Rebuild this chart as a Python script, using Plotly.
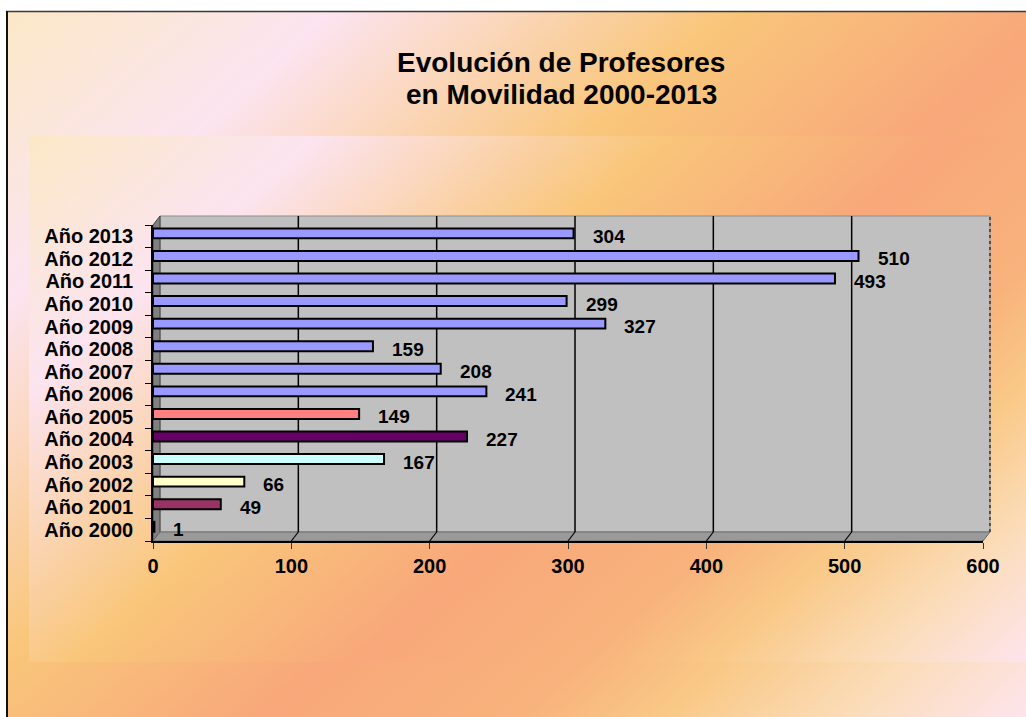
import base64

import plotly.graph_objects as go

years = ["Año 2000", "Año 2001", "Año 2002", "Año 2003", "Año 2004", "Año 2005", "Año 2006",
         "Año 2007", "Año 2008", "Año 2009", "Año 2010", "Año 2011", "Año 2012", "Año 2013"]
profesores = [1, 49, 66, 167, 227, 149, 241, 208, 159, 327, 299, 493, 510, 304]
bar_colors = ["#9999ff", "#993366", "#ffffcc", "#ccffff", "#660066", "#ff8080", "#9999ff",
              "#9999ff", "#9999ff", "#9999ff", "#9999ff", "#9999ff", "#9999ff", "#9999ff"]
x_ticks = [0, 100, 200, 300, 400, 500, 600]
title_lines = ["Evolución de Profesores", "en Movilidad 2000-2013"]

FONT = "Liberation Sans, Arial, sans-serif"
WIDTH, HEIGHT = 1026, 717
# plot area in pixels, and the depth of the fake 3D wall
L, R, T, B = 153, 983, 225, 541
DX, DY = 7, 9
W, H = R - L, B - T


def fx(px: float) -> float:
    return (px - L) / W


def fy(py: float) -> float:
    return (B - py) / H


def gradient_background() -> str:
    stops = [(0.00, "#fbe8c6"), (0.18, "#fce4f0"), (0.40, "#f9c67a"), (0.58, "#f8a87a"),
             (0.72, "#f8b27c"), (0.80, "#f9c886"), (0.90, "#fbdcb8"), (1.00, "#fde4ec")]
    st = "".join(f'<stop offset="{o}" stop-color="{c}"/>' for o, c in stops)
    svg = (
        f'<svg xmlns="http://www.w3.org/2000/svg" width="{WIDTH}" height="{HEIGHT}" '
        f'viewBox="0 0 {WIDTH} {HEIGHT}" preserveAspectRatio="none"><defs>'
        f'<linearGradient id="g1" gradientUnits="userSpaceOnUse" x1="6" y1="11" x2="806" y2="911">{st}</linearGradient>'
        f'<linearGradient id="g2" gradientUnits="userSpaceOnUse" x1="29" y1="136" x2="729" y2="924">{st}</linearGradient>'
        '</defs>'
        f'<rect width="{WIDTH}" height="{HEIGHT}" fill="#ffffff"/>'
        '<rect x="6" y="11" width="1020" height="706" fill="url(#g1)"/>'
        '<rect x="29" y="136" width="997" height="526" fill="url(#g2)"/>'
        '<line x1="6" y1="11.5" x2="1026" y2="11.5" stroke="#3a3a3a" stroke-width="1.5"/>'
        '<line x1="7" y1="11" x2="7" y2="717" stroke="#111111" stroke-width="2"/>'
        '</svg>'
    )
    return "data:image/svg+xml;base64," + base64.b64encode(svg.encode()).decode()


fig = go.Figure()
fig.add_trace(go.Bar(
    y=years, x=profesores, orientation="h",
    marker=dict(color=bar_colors, line=dict(color="#000000", width=2)),
    width=0.44, offset=-0.09,
    hoverinfo="x+y", showlegend=False,
))

for yr, v in zip(years, profesores):
    fig.add_annotation(
        x=v, y=yr, text=str(v), showarrow=False,
        xanchor="left", yanchor="middle", xshift=17,
        font=dict(family=FONT, size=19, color="#000000", weight="bold"),
    )

# title, two lines set a bit tighter than plotly's default line height
for i, line in enumerate(title_lines):
    fig.add_annotation(
        text=line, showarrow=False, xref="paper", yref="paper",
        x=fx(561), y=fy(63 + 31 * i), xanchor="center", yanchor="middle",
        font=dict(family=FONT, size=28, color="#000000", weight="bold"),
    )

fig.add_layout_image(
    source=gradient_background(), xref="paper", yref="paper",
    x=fx(0), y=fy(0), sizex=WIDTH / W, sizey=HEIGHT / H,
    xanchor="left", yanchor="top", sizing="stretch", layer="below",
)

# back wall, left wall and floor
fig.add_shape(type="rect", xref="paper", yref="paper", layer="below",
              x0=fx(L + DX), x1=fx(R + DX), y0=fy(B - DY), y1=fy(T - DY),
              fillcolor="#c0c0c0", line=dict(color="#8c8c8c", width=1))
fig.add_shape(type="path", xref="paper", yref="paper", layer="below",
              path=f"M {fx(L)},{fy(B)} L {fx(L)},{fy(T)} L {fx(L + DX)},{fy(T - DY)} "
                   f"L {fx(L + DX)},{fy(B - DY)} Z",
              fillcolor="#808080", line=dict(color="#404040", width=1))
fig.add_shape(type="path", xref="paper", yref="paper", layer="below",
              path=f"M {fx(L)},{fy(B)} L {fx(R)},{fy(B)} L {fx(R + DX)},{fy(B - DY)} "
                   f"L {fx(L + DX)},{fy(B - DY)} Z",
              fillcolor="#9a9a9a", line=dict(color="#6a6a6a", width=1))
fig.add_shape(type="line", xref="paper", yref="paper", layer="below",
              x0=fx(R + DX), x1=fx(R + DX), y0=fy(B - DY), y1=fy(T - DY),
              line=dict(color="#333333", width=1.5, dash="dot"))
for v in x_ticks[1:-1]:
    fig.add_shape(type="line", xref="x", xsizemode="pixel", xanchor=v, x0=DX, x1=DX,
                  yref="paper", y0=fy(B - DY), y1=fy(T - DY), layer="below",
                  line=dict(color="#000000", width=1.5))
for v in x_ticks[1:]:
    fig.add_shape(type="line", xref="x", xsizemode="pixel", xanchor=v, x0=0, x1=DX,
                  yref="paper", y0=fy(B), y1=fy(B - DY), layer="below",
                  line=dict(color="#000000", width=1.2))

fig.update_layout(
    width=WIDTH, height=HEIGHT,
    margin=dict(l=L, r=WIDTH - R, t=T, b=HEIGHT - B),
    paper_bgcolor="#ffffff", plot_bgcolor="rgba(0,0,0,0)",
    bargap=0.6,
)
fig.update_xaxes(
    range=[0, 600], tickvals=x_ticks, showgrid=False, zeroline=False,
    showline=True, linecolor="#000000", linewidth=1.5,
    ticks="outside", ticklen=6, tickcolor="#333333",
    tickfont=dict(family=FONT, size=20, color="#000000", weight="bold"),
    fixedrange=True,
)
fig.update_yaxes(
    type="category", range=[-0.5, 13.5], showgrid=False, zeroline=False,
    tickmode="array", tickvals=years, ticktext=years,
    showline=True, linecolor="#000000", linewidth=1.5,
    ticks="outside", ticklen=6, tickcolor="#000000", tickson="boundaries",
    ticklabelstandoff=14,
    tickfont=dict(family=FONT, size=20, color="#000000", weight="bold"),
    fixedrange=True,
)

# the page body has a default 8px margin; drop it so the chart sits at the window corner
fig.write_html("out.html", config={"displayModeBar": False},
               post_script="document.body.style.margin = '0px';")
